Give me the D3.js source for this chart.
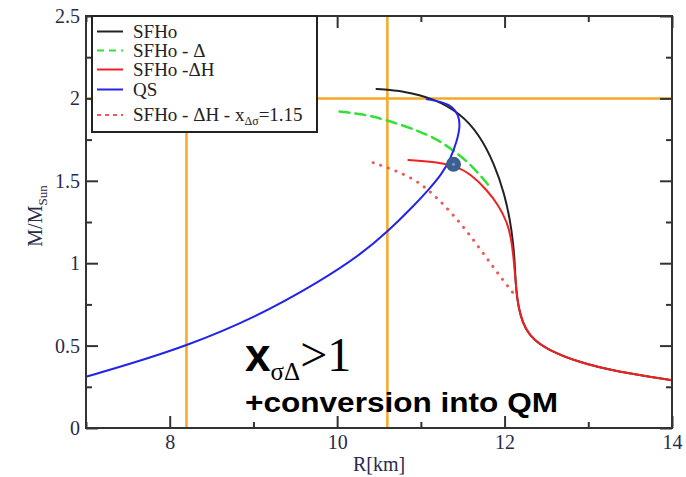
<!DOCTYPE html>
<html>
<head>
<meta charset="utf-8">
<script src="https://cdn.jsdelivr.net/npm/d3@7"></script>
<style>
  body { margin: 0; background: #fff; }
  svg { display: block; }
</style>
</head>
<body>
<script>
// mass-radius curves, [R km, M/Msun]
const sfho = [[10.47, 2.057], [10.8, 2.045], [11.15, 2.0], [11.47, 1.91], [11.7, 1.78], [11.88, 1.6],
  [12.0, 1.42], [12.07, 1.25], [12.1, 1.13], [12.12, 1.02], [12.13, 0.9], [12.15, 0.78], [12.19, 0.68],
  [12.25, 0.6], [12.35, 0.535], [12.5, 0.48], [12.86, 0.402], [13.34, 0.342], [14.0, 0.29]];
const sfhoDelta = [[10.03, 1.92], [10.3, 1.905], [10.59, 1.87], [10.99, 1.8], [11.2, 1.75], [11.38, 1.687],
  [11.6, 1.6], [11.83, 1.46]];
const sfhoDeltaH = [[10.85, 1.626], [11.1, 1.618], [11.39, 1.596], [11.6, 1.54], [11.79, 1.444], [11.93, 1.35],
  [12.03, 1.25], [12.08, 1.15], [12.11, 1.02], [12.13, 0.9], [12.15, 0.78], [12.19, 0.68], [12.25, 0.6],
  [12.35, 0.535], [12.5, 0.48], [12.86, 0.402], [13.34, 0.342], [14.0, 0.29]];
const qs = [[7.0, 0.311], [7.5, 0.385], [8.2, 0.498], [9.0, 0.665], [9.8, 0.89], [10.3, 1.06], [10.6, 1.19],
  [10.9, 1.34], [11.1, 1.45], [11.25, 1.54], [11.36, 1.64], [11.43, 1.74], [11.47, 1.83], [11.45, 1.9],
  [11.38, 1.95], [11.25, 1.98], [11.07, 1.995]];
const sfhoDeltaHx = [[10.43, 1.61], [10.91, 1.525], [11.23, 1.383], [11.55, 1.2], [11.86, 0.977], [12.12, 0.807]];

const marker = [11.39, 1.6];
const guideR = [8.2, 10.6];
const guideM = [2.0];

const xMajor = [8, 10, 12, 14];
const xMinor = [7, 9, 11, 13];
const yMajor = [0, 0.5, 1, 1.5, 2, 2.5];
const yTickLabels = ['0', '0.5', '1', '1.5', '2', '2.5'];
const yMinor = [0.25, 0.75, 1.25, 1.75, 2.25];

const width  = 686;
const height = 477;
const m = {left: 86, right: 14, top: 16, bottom: 49};
const serif = "'Liberation Serif', 'Times New Roman', serif";
const sans  = "'Liberation Sans', Arial, sans-serif";

const x = d3.scaleLinear().domain([7, 14]).range([m.left, width - m.right]);
const y = d3.scaleLinear().domain([0, 2.5]).range([height - m.bottom, m.top]);

const svg = d3.select('body').append('svg')
  .attr('width', width)
  .attr('height', height);

// orange guide lines
svg.selectAll('.vguide').data(guideR).enter().append('line')
  .attr('x1', d => x(d)).attr('x2', d => x(d))
  .attr('y1', y(0)).attr('y2', y(2.5))
  .attr('stroke', '#f5a82a').attr('stroke-width', 2.5);
svg.selectAll('.hguide').data(guideM).enter().append('line')
  .attr('x1', x(7)).attr('x2', x(14))
  .attr('y1', d => y(d)).attr('y2', d => y(d))
  .attr('stroke', '#f5a82a').attr('stroke-width', 2.5);

const line = d3.line()
  .x(d => x(d[0]))
  .y(d => y(d[1]))
  .curve(d3.curveBasis);

const series = [
  {name: 'SFHo', data: sfho, color: '#222', dash: null, lw: 2},
  {name: 'SFHo - Δ', data: sfhoDelta, color: '#35e035', dash: '10,6', lw: 2.5},
  {name: 'QS', data: qs, color: '#2424e8', dash: null, lw: 2},
  {name: 'SFHo -ΔH', data: sfhoDeltaH, color: '#ee2222', dash: null, lw: 2},
  {name: 'xdot', data: sfhoDeltaHx, color: '#f25555', dash: '0.1,8', lw: 3}
];

series.forEach(s => {
  svg.append('path')
    .attr('d', line(s.data))
    .attr('fill', 'none')
    .attr('stroke', s.color)
    .attr('stroke-width', s.lw)
    .attr('stroke-linecap', 'round')
    .attr('stroke-dasharray', s.dash);
});

svg.append('circle')
  .attr('cx', x(marker[0])).attr('cy', y(marker[1])).attr('r', 7.5)
  .attr('fill', '#3b5f8e');
svg.append('circle')
  .attr('cx', x(marker[0])).attr('cy', y(marker[1])).attr('r', 1.5)
  .attr('fill', '#7b9cc8');

// axes, ticks inward on all four sides
const styleAxis = function(g) {
  g.select('.domain').remove();
  g.selectAll('.tick line').attr('stroke', '#333').attr('stroke-width', 2);
  g.selectAll('text').attr('font-family', serif).attr('font-size', 20).attr('fill', '#2a2a48');
};

svg.append('g').attr('transform', 'translate(0,' + y(0) + ')')
  .call(d3.axisBottom(x).tickValues(xMajor).tickFormat(d3.format('d')).tickSize(-12).tickPadding(7))
  .call(styleAxis);
svg.append('g').attr('transform', 'translate(0,' + y(0) + ')')
  .call(d3.axisBottom(x).tickValues(xMinor).tickFormat('').tickSize(-6))
  .call(styleAxis);
svg.append('g').attr('transform', 'translate(0,' + y(2.5) + ')')
  .call(d3.axisTop(x).tickValues(xMajor).tickFormat('').tickSize(-12))
  .call(styleAxis);
svg.append('g').attr('transform', 'translate(0,' + y(2.5) + ')')
  .call(d3.axisTop(x).tickValues(xMinor).tickFormat('').tickSize(-6))
  .call(styleAxis);

svg.append('g').attr('transform', 'translate(' + x(7) + ',0)')
  .call(d3.axisLeft(y).tickValues(yMajor).tickFormat((d, i) => yTickLabels[i]).tickSize(-12).tickPadding(6))
  .call(styleAxis);
svg.append('g').attr('transform', 'translate(' + x(7) + ',0)')
  .call(d3.axisLeft(y).tickValues(yMinor).tickFormat('').tickSize(-6))
  .call(styleAxis);
svg.append('g').attr('transform', 'translate(' + x(14) + ',0)')
  .call(d3.axisRight(y).tickValues(yMajor).tickFormat('').tickSize(-12))
  .call(styleAxis);
svg.append('g').attr('transform', 'translate(' + x(14) + ',0)')
  .call(d3.axisRight(y).tickValues(yMinor).tickFormat('').tickSize(-6))
  .call(styleAxis);

svg.append('rect')
  .attr('x', x(7)).attr('y', y(2.5))
  .attr('width', x(14) - x(7)).attr('height', y(0) - y(2.5))
  .attr('fill', 'none').attr('stroke', '#333').attr('stroke-width', 2);

// axis titles
svg.append('text')
  .attr('x', (x(7) + x(14)) / 2).attr('y', 471)
  .attr('text-anchor', 'middle')
  .attr('font-family', serif).attr('font-size', 20).attr('fill', '#2a2a48')
  .text('R[km]');

const yl = svg.append('text')
  .attr('transform', 'translate(42,216) rotate(-90)')
  .attr('text-anchor', 'middle')
  .attr('font-family', serif).attr('font-size', 20).attr('fill', '#2a2a48');
yl.append('tspan').text('M/M');
yl.append('tspan').attr('dy', 5).attr('font-size', 13).text('Sun');

// legend
const legend = svg.append('g');
legend.append('rect')
  .attr('x', 92).attr('y', 16).attr('width', 225).attr('height', 116)
  .attr('fill', '#fff').attr('stroke', '#222').attr('stroke-width', 2);

const legendItems = [
  {label: 'SFHo', color: '#222', dash: null, ly: 31.5},
  {label: 'SFHo - Δ', color: '#35e035', dash: '7,5', ly: 50.5},
  {label: 'SFHo -ΔH', color: '#ee2222', dash: null, ly: 69.5},
  {label: 'QS', color: '#2424e8', dash: null, ly: 89.5},
  {label: 'SFHo - ΔH - x', color: '#f25555', dash: '4,4', ly: 115, sub: 'Δσ', tail: '=1.15'}
];

legendItems.forEach(d => {
  legend.append('line')
    .attr('x1', 97).attr('x2', 123).attr('y1', d.ly).attr('y2', d.ly)
    .attr('stroke', d.color).attr('stroke-width', 2)
    .attr('stroke-dasharray', d.dash);
  const t = legend.append('text')
    .attr('x', 133).attr('y', d.ly + 6)
    .attr('font-family', serif).attr('font-size', 19).attr('fill', '#222');
  t.append('tspan').text(d.label);
  if (d.sub) {
    t.append('tspan').attr('dy', 4).attr('font-size', 12).text(d.sub);
    t.append('tspan').attr('dy', -4).text(d.tail);
  }
});

// annotation
const ann = svg.append('text').attr('x', 245).attr('y', 371).attr('fill', '#000');
ann.append('tspan').attr('font-family', sans).attr('font-weight', 'bold').attr('font-size', 46).text('x');
ann.append('tspan').attr('font-family', serif).attr('font-size', 25).attr('dy', 9).text('σΔ');
ann.append('tspan').attr('font-family', serif).attr('font-size', 48).attr('dy', -9).text('>1');

svg.append('text')
  .attr('x', 245).attr('y', 412)
  .attr('font-family', sans).attr('font-weight', 'bold').attr('font-size', 27)
  .attr('textLength', 313).attr('lengthAdjust', 'spacingAndGlyphs')
  .attr('fill', '#000')
  .text('+conversion into QM');
</script>
</body>
</html>
